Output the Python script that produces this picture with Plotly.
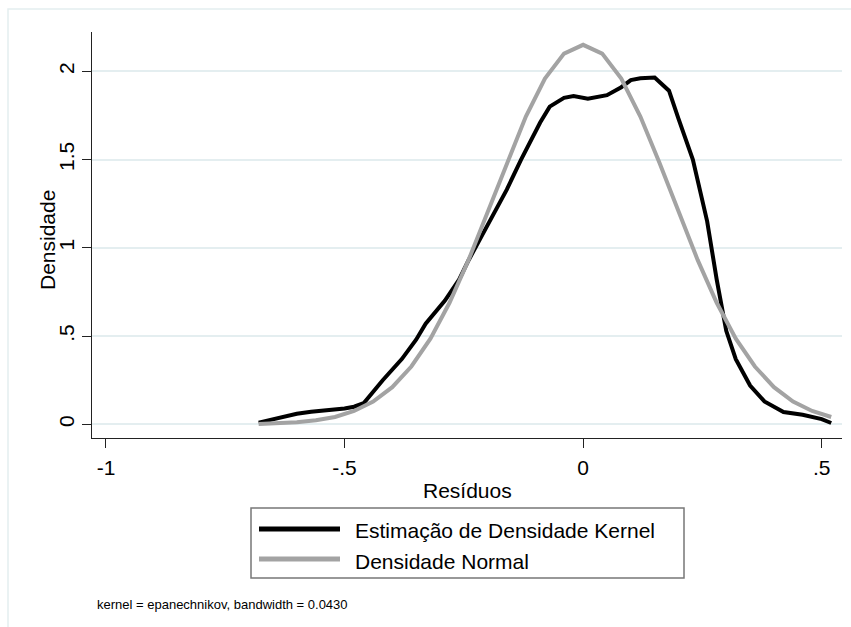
import plotly.graph_objects as go

# Kernel density estimate
kernel_x = [-0.68, -0.64, -0.60, -0.57, -0.53, -0.50, -0.48, -0.46, -0.42, -0.38,
            -0.35, -0.33, -0.29, -0.26, -0.24, -0.20, -0.16, -0.13, -0.09, -0.07,
            -0.04, -0.02, 0.01, 0.05, 0.08, 0.10, 0.12, 0.15, 0.18, 0.20,
            0.23, 0.26, 0.28, 0.30, 0.32, 0.35, 0.38, 0.42, 0.46, 0.50, 0.52]
kernel_y = [0.010, 0.035, 0.060, 0.072, 0.080, 0.090, 0.100, 0.120, 0.250, 0.370,
            0.480, 0.570, 0.700, 0.820, 0.930, 1.130, 1.330, 1.500, 1.710, 1.800,
            1.850, 1.860, 1.845, 1.865, 1.910, 1.950, 1.960, 1.965, 1.890, 1.730,
            1.500, 1.150, 0.820, 0.530, 0.370, 0.220, 0.130, 0.070, 0.055, 0.030, 0.008]

# Normal density
normal_x = [-0.68, -0.64, -0.60, -0.56, -0.52, -0.48, -0.44, -0.40, -0.36, -0.32,
            -0.28, -0.24, -0.20, -0.16, -0.12, -0.08, -0.04, 0.00, 0.04, 0.08,
            0.12, 0.16, 0.20, 0.24, 0.28, 0.32, 0.36, 0.40, 0.44, 0.48, 0.52]
normal_y = [0.003, 0.006, 0.012, 0.023, 0.042, 0.076, 0.129, 0.211, 0.328, 0.486,
            0.689, 0.932, 1.203, 1.482, 1.744, 1.959, 2.100, 2.150, 2.100, 1.959,
            1.744, 1.482, 1.203, 0.932, 0.689, 0.486, 0.328, 0.211, 0.129, 0.076, 0.042]

x_ticks = [-1, -0.5, 0, 0.5]
x_tick_labels = ["-1", "-.5", "0", ".5"]
y_ticks = [0, 0.5, 1, 1.5, 2]
y_tick_labels = ["0", ".5", "1", "1.5", "2"]

legend_labels = ["Estimação de Densidade Kernel", "Densidade Normal"]
note_text = "kernel = epanechnikov, bandwidth = 0.0430"
x_title = "Resíduos"
y_title = "Densidade"

FONT = "Liberation Sans, Arial, sans-serif"
GRID = "#e4eef0"
BLACK = "#000000"
GRAY = "#a3a3a3"

# plot-area pixel geometry
L, R, T, B = 92, 842, 32, 438
W, H = 851, 627


def px(x):
    return (x - L) / (R - L)


def py(y):
    return (B - y) / (B - T)


fig = go.Figure()
fig.add_trace(go.Scatter(x=kernel_x, y=kernel_y, mode="lines",
                         line=dict(color=BLACK, width=4), name=legend_labels[0],
                         showlegend=False))
fig.add_trace(go.Scatter(x=normal_x, y=normal_y, mode="lines",
                         line=dict(color=GRAY, width=4), name=legend_labels[1],
                         showlegend=False))

shapes = []
annotations = []

# outer border
shapes.append(dict(type="rect", xref="paper", yref="paper",
                   x0=px(8), x1=px(856), y0=py(9), y1=py(632),
                   line=dict(color=GRID, width=1.5), fillcolor="rgba(0,0,0,0)",
                   layer="below"))

# legend box
shapes.append(dict(type="rect", xref="paper", yref="paper",
                   x0=px(251), x1=px(684), y0=py(508), y1=py(578),
                   line=dict(color="#777777", width=1.5), fillcolor="white"))
shapes.append(dict(type="line", xref="paper", yref="paper",
                   x0=px(259), x1=px(340), y0=py(529), y1=py(529),
                   line=dict(color=BLACK, width=5)))
shapes.append(dict(type="line", xref="paper", yref="paper",
                   x0=px(259), x1=px(340), y0=py(559), y1=py(559),
                   line=dict(color=GRAY, width=5)))
annotations.append(dict(xref="paper", yref="paper", x=px(353), y=py(530),
                        xanchor="left", yanchor="middle", showarrow=False,
                        text=legend_labels[0], font=dict(family=FONT, size=21, color="black")))
annotations.append(dict(xref="paper", yref="paper", x=px(353), y=py(561),
                        xanchor="left", yanchor="middle", showarrow=False,
                        text=legend_labels[1], font=dict(family=FONT, size=21, color="black")))

# note
annotations.append(dict(xref="paper", yref="paper", x=px(95), y=py(604),
                        xanchor="left", yanchor="middle", showarrow=False,
                        text=note_text, font=dict(family=FONT, size=13, color="black")))

# axis titles
annotations.append(dict(xref="paper", yref="paper", x=px(467), y=py(490),
                        xanchor="center", yanchor="middle", showarrow=False,
                        text=x_title, font=dict(family=FONT, size=21, color="black")))
annotations.append(dict(xref="paper", yref="paper", x=px(47), y=py(240),
                        xanchor="center", yanchor="middle", showarrow=False, textangle=-90,
                        text=y_title, font=dict(family=FONT, size=21, color="black")))

fig.update_layout(
    width=W, height=H,
    margin=dict(l=L, r=W - R, t=T, b=H - B, pad=0),
    paper_bgcolor="white", plot_bgcolor="white",
    showlegend=False,
    shapes=shapes, annotations=annotations,
    font=dict(family=FONT, size=21, color="black"),
)

fig.update_xaxes(range=[-1.0293, 0.5426], tickvals=x_ticks, ticktext=x_tick_labels,
                 showgrid=False, zeroline=False, showline=True, linecolor="#222222",
                 linewidth=1, ticks="outside", ticklen=9, tickcolor="#222222",
                 ticklabelstandoff=2,
                 tickfont=dict(family=FONT, size=21, color="black"))
fig.update_yaxes(range=[-0.077, 2.2226], tickvals=y_ticks, ticktext=y_tick_labels,
                 showgrid=True, gridcolor=GRID, gridwidth=2, zeroline=False,
                 showline=True, linecolor="#222222", linewidth=1, ticks="outside",
                 ticklen=9, tickcolor="#222222", tickangle=-90,
                 tickfont=dict(family=FONT, size=21, color="black"))

fig.write_html("out.html")
